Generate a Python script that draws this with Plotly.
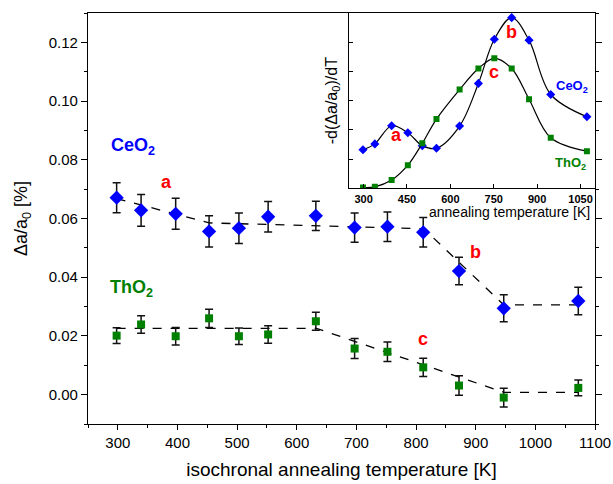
import plotly.graph_objects as go

# ---- main panel data ----
temps = [298, 339, 397, 453, 503, 552, 632, 697, 752, 812, 872, 947, 1072]
ceo2 = [0.0671, 0.0628, 0.0616, 0.0556, 0.0567, 0.0606, 0.0609, 0.0569, 0.0572, 0.0553, 0.0421, 0.0294, 0.0319]
ceo2_err = [0.0051, 0.0054, 0.0053, 0.0053, 0.0052, 0.0052, 0.0050, 0.0050, 0.0050, 0.0050, 0.0047, 0.0046, 0.0047]
tho2 = [0.0201, 0.0239, 0.0199, 0.0260, 0.0199, 0.0205, 0.0250, 0.0157, 0.0146, 0.0093, 0.0031, -0.0010, 0.0023]
tho2_err = [0.0027, 0.0030, 0.0030, 0.0031, 0.0028, 0.0030, 0.0031, 0.0034, 0.0033, 0.0031, 0.0033, 0.0032, 0.0027]

# dashed guide lines
ceo2_guide_x = [298, 453, 813, 947, 1072]
ceo2_guide_y = [0.0668, 0.0585, 0.0565, 0.0306, 0.0306]
tho2_guide_x = [298, 633, 947, 1072]
tho2_guide_y = [0.0226, 0.0226, 0.0008, 0.0008]

# ---- inset data ----
inset_ceo2 = [1.32, 1.52, 2.14, 1.90, 1.46, 1.37, 2.13, 3.59, 5.10, 5.84, 5.07, 3.21, 2.45]
inset_tho2 = [0.03, 0.05, 0.28, 0.79, 1.54, 2.37, 3.38, 4.10, 4.45, 4.10, 3.05, 1.73, 1.27]

BLUE = "#0000FF"
GREEN = "#008000"
RED = "#FF0000"
FONT = "Liberation Sans, Arial, sans-serif"

fig = go.Figure()

fig.add_trace(go.Scatter(x=ceo2_guide_x, y=ceo2_guide_y, mode="lines",
                         line=dict(color="black", width=1.3, dash="dash"),
                         showlegend=False, hoverinfo="skip"))
fig.add_trace(go.Scatter(x=tho2_guide_x, y=tho2_guide_y, mode="lines",
                         line=dict(color="black", width=1.3, dash="dash"),
                         showlegend=False, hoverinfo="skip"))

fig.add_trace(go.Scatter(x=temps, y=ceo2, mode="markers", name="CeO2",
                         marker=dict(symbol="diamond", size=11, color=BLUE),
                         error_y=dict(type="data", array=ceo2_err, color="#111111",
                                      thickness=1.5, width=4),
                         showlegend=False))
fig.add_trace(go.Scatter(x=temps, y=tho2, mode="markers", name="ThO2",
                         marker=dict(symbol="square", size=8, color=GREEN),
                         error_y=dict(type="data", array=tho2_err, color="#111111",
                                      thickness=1.5, width=4),
                         showlegend=False))

# inset traces
fig.add_trace(go.Scatter(x=temps, y=inset_ceo2, mode="lines+markers",
                         line=dict(color="black", width=1.2, shape="spline", smoothing=1.0),
                         marker=dict(symbol="diamond", size=7, color=BLUE),
                         xaxis="x2", yaxis="y2", showlegend=False))
fig.add_trace(go.Scatter(x=temps, y=inset_tho2, mode="lines+markers",
                         line=dict(color="black", width=1.2, shape="spline", smoothing=1.0),
                         marker=dict(symbol="square", size=6, color=GREEN),
                         xaxis="x2", yaxis="y2", showlegend=False))

annotations = [
    dict(x=285, y=0.0844, xref="x", yref="y", text="<b>CeO<sub>2</sub></b>",
         font=dict(color=BLUE, size=18, family=FONT), showarrow=False, xanchor="left"),
    dict(x=284, y=0.0360, xref="x", yref="y", text="<b>ThO<sub>2</sub></b>",
         font=dict(color=GREEN, size=18, family=FONT), showarrow=False, xanchor="left"),
    dict(x=382, y=0.0724, xref="x", yref="y", text="<b>a</b>",
         font=dict(color=RED, size=18, family=FONT), showarrow=False),
    dict(x=899, y=0.0487, xref="x", yref="y", text="<b>b</b>",
         font=dict(color=RED, size=18, family=FONT), showarrow=False),
    dict(x=812, y=0.0188, xref="x", yref="y", text="<b>c</b>",
         font=dict(color=RED, size=18, family=FONT), showarrow=False),
    dict(x=415, y=1.84, xref="x2", yref="y2", text="<b>a</b>",
         font=dict(color=RED, size=18, family=FONT), showarrow=False),
    dict(x=811, y=5.35, xref="x2", yref="y2", text="<b>b</b>",
         font=dict(color=RED, size=18, family=FONT), showarrow=False),
    dict(x=752, y=3.98, xref="x2", yref="y2", text="<b>c</b>",
         font=dict(color=RED, size=18, family=FONT), showarrow=False),
    dict(x=1020, y=3.49, xref="x2", yref="y2", text="<b>CeO<sub>2</sub></b>",
         font=dict(color=BLUE, size=13, family=FONT), showarrow=False),
    dict(x=1016, y=0.85, xref="x2", yref="y2", text="<b>ThO<sub>2</sub></b>",
         font=dict(color=GREEN, size=13, family=FONT), showarrow=False),
    # inset x-axis title (right-shifted as in the original)
    dict(x=0.832, y=0.516, xref="paper", yref="paper", text="annealing temperature [K]",
         font=dict(color="black", size=14, family=FONT), showarrow=False,
         xanchor="center", yanchor="middle"),
]

fig.update_layout(
    width=613, height=484,
    margin=dict(l=88, r=18, t=13, b=60, autoexpand=False),
    paper_bgcolor="white", plot_bgcolor="white",
    font=dict(family=FONT, color="black"),
    annotations=annotations,
    xaxis=dict(
        domain=[0, 1], range=[250, 1100], dtick=100, tick0=0, automargin=False,
        showline=True, linecolor="black", linewidth=1.3, mirror=True,
        ticks="outside", ticklen=5, tickcolor="black", tickwidth=1,
        minor=dict(dtick=50, ticks="outside", ticklen=3, tickcolor="black"),
        showgrid=False, zeroline=False,
        tickfont=dict(size=15, family=FONT),
        title=dict(text="isochronal annealing temperature [K]", font=dict(size=19, family=FONT), standoff=12),
    ),
    yaxis=dict(
        domain=[0, 1], range=[-0.01, 0.13], dtick=0.02, tick0=0, tickformat=".2f", automargin=False,
        showline=True, linecolor="black", linewidth=1.3, mirror="ticks",
        ticks="outside", ticklen=6, tickcolor="black", tickwidth=1,
        minor=dict(dtick=0.01, ticks="outside", ticklen=3, tickcolor="black"),
        showgrid=False, zeroline=False,
        tickfont=dict(size=15, family=FONT),
        title=dict(text="Δa/a<sub>0</sub> [%]", font=dict(size=18, family=FONT), standoff=16),
    ),
    xaxis2=dict(
        domain=[0.515, 1.0], anchor="y2", range=[250, 1100], automargin=False,
        tickvals=[300, 450, 600, 750, 900, 1050],
        showline=True, linecolor="black", linewidth=1.3, mirror=True,
        ticks="inside", ticklen=4, tickcolor="black",
        showgrid=False, zeroline=False,
        tickfont=dict(size=11, family=FONT, weight="bold"),
    ),
    yaxis2=dict(
        domain=[0.5735, 1.0], anchor="x2", range=[0, 6], dtick=1, automargin=False,
        showline=True, linecolor="black", linewidth=1.3, mirror=True,
        ticks="inside", ticklen=4, tickcolor="black", showticklabels=False,
        showgrid=False, zeroline=False,
        title=dict(text="-d(Δa/a<sub>0</sub>)/dT", font=dict(size=16, family=FONT), standoff=6),
    ),
)

fig.add_shape(type="rect", xref="x2 domain", yref="y2 domain", x0=0, x1=1, y0=0, y1=1,
              fillcolor="white", line=dict(width=0), layer="below")

fig.write_html("out.html", config={"displayModeBar": False},
               post_script="document.body.style.margin='0';document.body.style.padding='0';")
